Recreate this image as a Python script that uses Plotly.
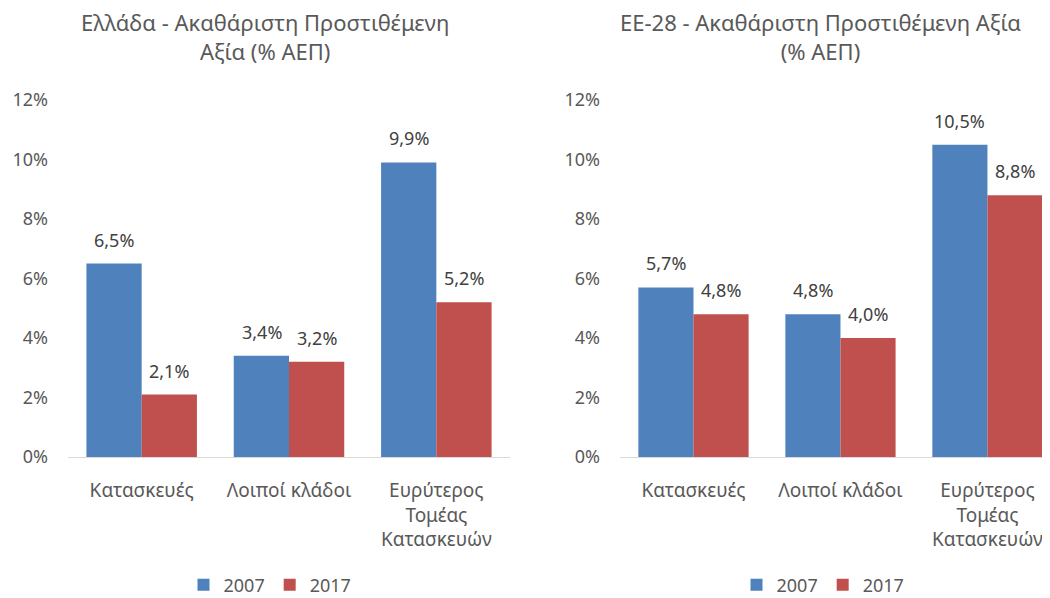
import plotly.graph_objects as go

categories = ["Κατασκευές", "Λοιποί κλάδοι", "Ευρύτερος<br>Τομέας<br>Κατασκευών"]
years = ["2007", "2017"]
greece_2007 = [6.5, 3.4, 9.9]
greece_2017 = [2.1, 3.2, 5.2]
eu_2007 = [5.7, 4.8, 10.5]
eu_2017 = [4.8, 4.0, 8.8]
y_ticks = [0, 2, 4, 6, 8, 10, 12]
title_left = "Ελλάδα - Ακαθάριστη Προστιθέμενη<br>Αξία (% ΑΕΠ)"
title_right = "ΕΕ-28 - Ακαθάριστη Προστιθέμενη Αξία<br>(% ΑΕΠ)"

BLUE = "#4F81BD"
RED = "#C0504D"
FONT = "Noto Sans"
GREY = "#595959"
LABEL = "#404040"


def lbl(v):
    return f"{v:.1f}%".replace(".", ",")


W, H = 1050, 598
OFF = 8  # page body margin offset


def px_x(p):
    return (p - OFF) / W


def px_y(p):
    return (H - (p - OFF)) / H


fig = go.Figure()
series = [
    (greece_2007, BLUE, years[0], "x", "y", "legend", -1),
    (greece_2017, RED, years[1], "x", "y", "legend", 1),
    (eu_2007, BLUE, years[0], "x2", "y2", "legend2", -1),
    (eu_2017, RED, years[1], "x2", "y2", "legend2", 1),
]
annotations = []
for vals, col, name, xa, ya, lg, side in series:
    fig.add_trace(go.Bar(
        x=categories, y=vals, name=name, marker_color=col,
        marker_line_width=0, cliponaxis=False,
        xaxis=xa, yaxis=ya, legend=lg,
    ))
    for c, v in zip(categories, vals):
        annotations.append(dict(
            x=c, y=v, xref=xa, yref=ya, text=lbl(v), showarrow=False,
            xshift=side * 27.5, yshift=10, yanchor="bottom", xanchor="center",
            font=dict(family=FONT, size=18, color=LABEL),
        ))

y_dom = [px_y(457), px_y(100)]
axis_common = dict(
    showline=True, linecolor="#D9D9D9", linewidth=1, ticks="",
    tickfont=dict(family=FONT, size=19, color=GREY), showgrid=False,
    automargin=False, ticklabelstandoff=16,
)
yaxis_common = dict(
    range=[0, 12], tickvals=y_ticks, ticktext=[f"{t}%" for t in y_ticks],
    showgrid=False, showline=False, zeroline=False, ticks="",
    tickfont=dict(family=FONT, size=18, color=GREY), domain=y_dom,
    automargin=False, ticklabelstandoff=19,
)

annotations += [
    dict(text=title_left, x=px_x(265), y=px_y(37), xref="paper", yref="paper",
         xanchor="center", yanchor="middle",
         showarrow=False, font=dict(family=FONT, size=22, color=GREY), align="center"),
    dict(text=title_right, x=px_x(820), y=px_y(37), xref="paper", yref="paper",
         xanchor="center", yanchor="middle",
         showarrow=False, font=dict(family=FONT, size=22, color=GREY), align="center"),
]

fig.update_layout(
    width=W, height=H,
    margin=dict(l=0, r=0, t=0, b=0, autoexpand=False),
    paper_bgcolor="white", plot_bgcolor="white",
    barmode="group", bargap=0.25, bargroupgap=0,
    font=dict(family=FONT, color=GREY),
    xaxis=dict(domain=[px_x(68), px_x(510)], range=[-0.5, 2.5], anchor="y", **axis_common),
    xaxis2=dict(domain=[px_x(620), 1.0], range=[-0.5, 2.48], anchor="y2", **axis_common),
    yaxis=dict(anchor="x", **yaxis_common),
    yaxis2=dict(anchor="x2", **yaxis_common),
    legend=dict(orientation="h", x=px_x(270), xanchor="center", y=px_y(585), yanchor="middle",
                font=dict(family=FONT, size=18, color=GREY)),
    legend2=dict(orientation="h", x=px_x(823), xanchor="center", y=px_y(585), yanchor="middle",
                 font=dict(family=FONT, size=18, color=GREY)),
    showlegend=True,
    annotations=annotations,
)

fig.write_html("out.html")
